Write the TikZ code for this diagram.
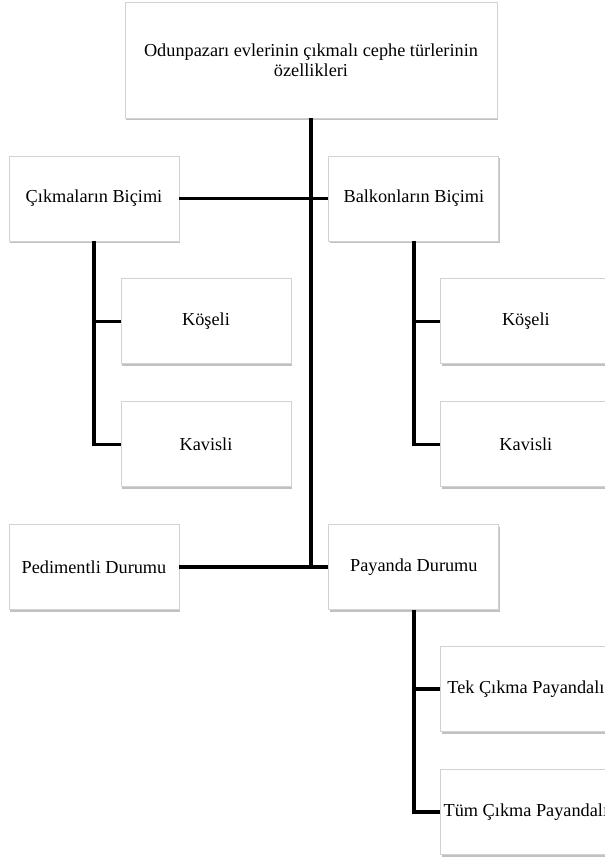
\documentclass[tikz,border=0pt]{standalone}
\usepackage{fontspec}
\setmainfont{Liberation Serif}
\usetikzlibrary{backgrounds, positioning, shadows}

\begin{document}
\begin{tikzpicture}[
            background rectangle/.style={fill=white},
            show background rectangle,
            inner frame sep=0pt,
            node distance = 0.74cm,
            line width=2pt,
            elbow/.style={to path={|- (\tikztotarget)}}
        ]

        \tikzstyle{box}=[
            draw=gray!35,
            line width=0.5pt,
            shape=rectangle,
            fill=white,
            minimum width=3.4cm,
            minimum height=1.7cm,
            inner sep=0pt,
            align=center,
            text=black,
            font=\fontsize{10.4}{11.5}\selectfont,
            drop shadow={shadow xshift=0.5pt, shadow yshift=-1.3pt, fill=black!40, opacity=0.6}
        ]

        \useasboundingbox (0,0) rectangle (12.1,-17.14);

		\node[box, minimum width=7.44cm, minimum height=2.32cm] (ozel) at (6.22,-1.2) {Odunpazarı evlerinin çıkmalı cephe türlerinin\\özellikleri};
		\node[box] (cikma) at (1.88,-3.97) {Çıkmaların Biçimi};
		\node[box] (balkon) [right=2.98cm of cikma] {Balkonların Biçimi};
		\node[box] (kose1) [below=of cikma, xshift=2.24cm] {Köşeli};
		\node[box] (kavis1) [below=of kose1] {Kavisli};
		\node[box] (kose2) [below=of balkon, xshift=2.24cm] {Köşeli};
		\node[box] (kavis2) [below=of kose2] {Kavisli};
		\node[box] (pedim) [below=of kavis1, xshift=-2.24cm] {Pedimentli Durumu};
		\node[box] (payanda) [right=2.98cm of pedim] {Payanda Durumu};
		\node[box] (tek) [below=0.72cm of payanda, xshift=2.24cm] {Tek Çıkma Payandalı};
		\node[box] (tum) [below=of tek] {Tüm Çıkma Payandalı};

        \path[-] (ozel.south) edge (ozel.south |- payanda.west);
        \path[-] (cikma.east) edge (balkon.west);
        \path[-] (pedim.east) edge (payanda.west);
        \path[-] (cikma.south) edge[elbow] (kose1.west);
        \path[-] (cikma.south) edge[elbow] (kavis1.west);
        \path[-] (balkon.south) edge[elbow] (kose2.west);
        \path[-] (balkon.south) edge[elbow] (kavis2.west);
        \path[-] (payanda.south) edge[elbow] (tek.west);
        \path[-] (payanda.south) edge[elbow] (tum.west);
    \end{tikzpicture}
\end{document}
